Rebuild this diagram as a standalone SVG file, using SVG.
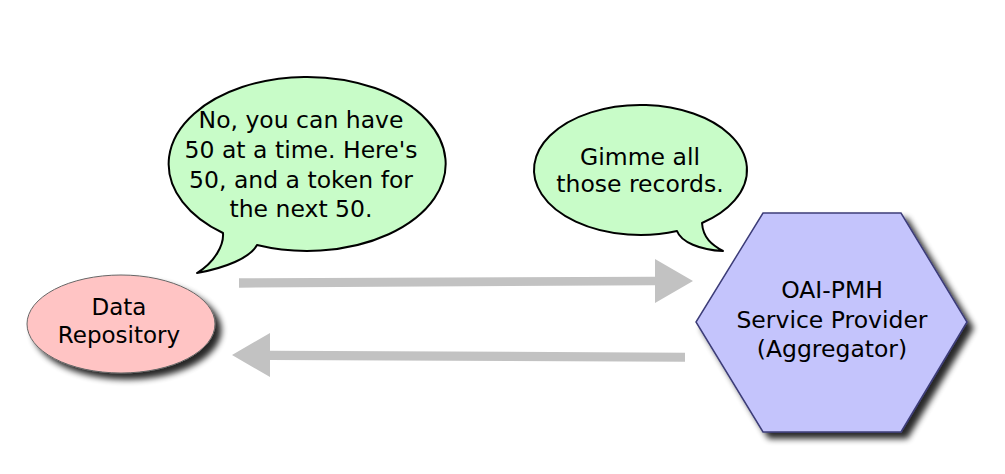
<svg xmlns="http://www.w3.org/2000/svg" width="1005" height="474" viewBox="0 0 1005 474">
<defs>
<filter id="sh" x="-20%" y="-20%" width="150%" height="150%">
<feGaussianBlur in="SourceAlpha" stdDeviation="3"/>
<feOffset dx="6" dy="6" result="b"/>
<feComponentTransfer><feFuncA type="linear" slope="0.85"/></feComponentTransfer>
<feMerge><feMergeNode/><feMergeNode in="SourceGraphic"/></feMerge>
</filter>
<style>
text{font-family:"DejaVu Sans","Liberation Sans",sans-serif;font-size:23.5px;fill:#000;text-anchor:middle}
.bubble{fill:#c8fcc8;stroke:#000;stroke-width:2;stroke-linejoin:round}
.arrow{fill:#c2c2c2;stroke:none}
</style>
</defs>
<rect width="1005" height="474" fill="#fff"/>
<g id="connectors">
<polygon class="arrow" points="239,278.3 655,276.7 655,259 693,281 655,303 655,285.2 239,287.7"/>
<polygon class="arrow" points="685,352.7 270,350.7 270,333 232,355 270,377 270,360 685,361.7"/>
</g>
<g id="data-repository">
<ellipse cx="121" cy="324" rx="94" ry="49" fill="#ffc4c4" stroke="#666" stroke-width="1" filter="url(#sh)"/>
<text x="119" y="315" style="font-size:23px">Data</text>
<text x="119" y="343" style="font-size:23px">Repository</text>
</g>
<g id="service-provider">
<polygon points="763,213 901,213 967,322 901,432 763,432 696,322" fill="#c4c4fc" stroke="#3c3c78" stroke-width="1.5" filter="url(#sh)"/>
<text x="832" y="298">OAI-PMH</text>
<text x="832" y="328">Service Provider</text>
<text x="832" y="357">(Aggregator)</text>
</g>
<g id="bubble-repository">
<path class="bubble" d="M257,245 A138.5,87 0 1 0 223,233 C224,245 215,262 197,273 C225,268 250,258 257,245 Z"/>
<text x="301" y="128">No, you can have</text>
<text x="301" y="158">50 at a time. Here's</text>
<text x="301" y="188">50, and a token for</text>
<text x="301" y="217">the next 50.</text>
</g>
<g id="bubble-aggregator">
<path class="bubble" d="M702,223 A106.5,65 0 1 0 677,231 C681,242 700,250 723,251 C712,245 703,238 702,223 Z"/>
<text x="640" y="165">Gimme all</text>
<text x="640" y="192">those records.</text>
</g>
</svg>
